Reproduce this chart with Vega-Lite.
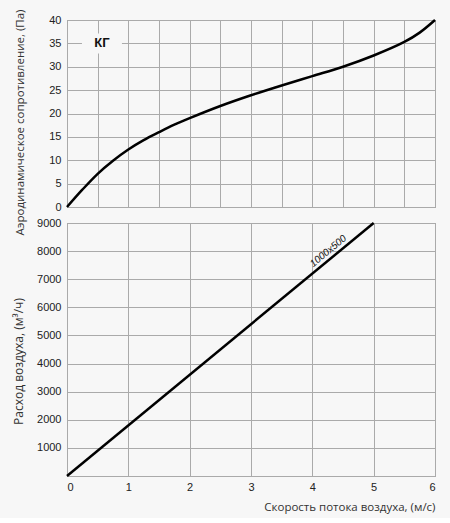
{
  "$schema": "https://vega.github.io/schema/vega-lite/v6.json",
  "background": "#f7f7f7",
  "padding": {"left": 11, "top": 8, "right": 14, "bottom": 5},
  "spacing": 16,
  "bounds": "flush",
  "datasets": {
    "resistance": [
      {"v": 0, "p": 0},
      {"v": 0.25, "p": 3.7},
      {"v": 0.5, "p": 7.1},
      {"v": 0.75, "p": 9.9},
      {"v": 1, "p": 12.3},
      {"v": 1.25, "p": 14.3},
      {"v": 1.5, "p": 16},
      {"v": 1.75, "p": 17.6},
      {"v": 2, "p": 19},
      {"v": 2.5, "p": 21.6},
      {"v": 3, "p": 23.9},
      {"v": 3.5, "p": 26},
      {"v": 4, "p": 28},
      {"v": 4.5, "p": 30},
      {"v": 5, "p": 32.4},
      {"v": 5.5, "p": 35.3},
      {"v": 5.75, "p": 37.3},
      {"v": 6, "p": 40}
    ],
    "topLabel": [{"v": 0.57, "p": 35, "label": "КГ"}],
    "flow": [
      {"v": 0, "q": 0},
      {"v": 5, "q": 9000}
    ],
    "bottomLabel": [{"v": 4.26, "q": 8000, "label": "1000x500"}]
  },
  "vconcat": [
    {
      "width": 368,
      "height": 187,
      "encoding": {
        "x": {
          "field": "v",
          "type": "quantitative",
          "scale": {"domain": [0, 6], "nice": false},
          "axis": {"values": [0, 0.5, 1, 1.5, 2, 2.5, 3, 3.5, 4, 4.5, 5, 5.5, 6], "labels": false, "title": null}
        },
        "y": {
          "field": "p",
          "type": "quantitative",
          "scale": {"domain": [0, 40], "nice": false},
          "axis": {
            "values": [0, 5, 10, 15, 20, 25, 30, 35, 40],
            "title": "Аэродинамическое сопротивление, (Па)",
            "titleX": -42,
            "titleY": 102
          }
        }
      },
      "layer": [
        {
          "data": {"name": "resistance"},
          "mark": {"type": "line", "color": "black", "strokeWidth": 2.5, "interpolate": "catmull-rom"}
        },
        {
          "data": {"name": "topLabel"},
          "mark": {"type": "point", "shape": "M-1,-0.5H1V0.5H-1Z", "size": 1600, "filled": true, "color": "#f7f7f7", "opacity": 1}
        },
        {
          "data": {"name": "topLabel"},
          "mark": {"type": "text", "font": "Liberation Sans", "fontWeight": "bold", "fontSize": 13, "color": "#111"},
          "encoding": {"text": {"field": "label"}}
        }
      ]
    },
    {
      "width": 368,
      "height": 253,
      "encoding": {
        "x": {
          "field": "v",
          "type": "quantitative",
          "scale": {"domain": [0, 6], "nice": false},
          "axis": {
            "values": [0, 0.5, 1, 1.5, 2, 2.5, 3, 3.5, 4, 4.5, 5, 5.5, 6],
            "format": "d",
            "labelExpr": "datum.value % 1 == 0 ? datum.label : ''",
            "labelPadding": 5,
            "title": "Скорость потока воздуха, (м/с)",
            "titleAnchor": "end",
            "titlePadding": 9
          }
        },
        "y": {
          "field": "q",
          "type": "quantitative",
          "scale": {"domain": [0, 9000], "nice": false},
          "axis": {
            "values": [0, 1000, 2000, 3000, 4000, 5000, 6000, 7000, 8000, 9000],
            "format": "d",
            "labelExpr": "datum.value == 0 ? '' : datum.label",
            "title": "Расход воздуха, (м³/ч)",
            "titleFontSize": 12,
            "titleX": -42,
            "titleY": 138
          }
        }
      },
      "layer": [
        {
          "data": {"name": "flow"},
          "mark": {"type": "line", "color": "black", "strokeWidth": 2.5}
        },
        {
          "data": {"name": "bottomLabel"},
          "mark": {"type": "text", "font": "Liberation Sans", "fontStyle": "italic", "fontSize": 10, "angle": 320.5, "color": "#111"},
          "encoding": {"text": {"field": "label"}}
        }
      ]
    }
  ],
  "config": {
    "view": {"stroke": "#888", "strokeWidth": 1},
    "axis": {
      "domain": false,
      "ticks": false,
      "grid": true,
      "gridColor": "#aaa",
      "gridWidth": 1,
      "labelFont": "Liberation Sans",
      "labelFontSize": 11,
      "labelColor": "#222",
      "labelPadding": 6,
      "titleFont": "Open Sans",
      "titleFontSize": 11.5,
      "titleFontWeight": "normal",
      "titleColor": "#333"
    }
  }
}
